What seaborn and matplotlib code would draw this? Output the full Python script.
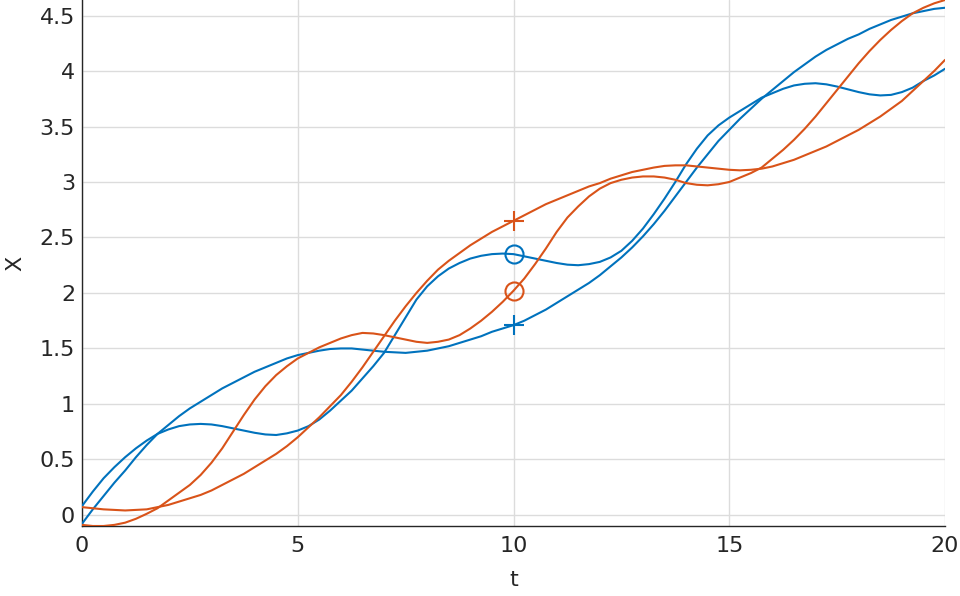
import matplotlib
matplotlib.use("Agg")
import matplotlib.pyplot as plt
import pandas as pd
import seaborn as sns

# sample times (every 0.25)
t = [i / 4 for i in range(81)]

# blue curve that carries the "+" marker at t=10
blue_plus = [-0.08, 0.05, 0.17, 0.29, 0.40, 0.52, 0.63, 0.73, 0.81, 0.89,
             0.96, 1.02, 1.08, 1.14, 1.19, 1.24, 1.29, 1.33, 1.37, 1.41,
             1.44, 1.46, 1.48, 1.495, 1.50, 1.50, 1.49, 1.48, 1.47, 1.465,
             1.46, 1.47, 1.48, 1.50, 1.52, 1.55, 1.58, 1.61, 1.65, 1.68,
             1.71, 1.75, 1.80, 1.85, 1.91, 1.97, 2.03, 2.09, 2.16, 2.24,
             2.32, 2.41, 2.51, 2.62, 2.74, 2.87, 3.00, 3.13, 3.25, 3.37,
             3.47, 3.57, 3.66, 3.75, 3.83, 3.91, 3.99, 4.06, 4.13, 4.19,
             4.24, 4.29, 4.33, 4.38, 4.42, 4.46, 4.49, 4.52, 4.54, 4.56,
             4.57]

# blue curve that carries the "o" marker at t=10
blue_circ = [0.08, 0.21, 0.33, 0.43, 0.52, 0.60, 0.67, 0.73, 0.77, 0.80,
             0.815, 0.82, 0.815, 0.80, 0.78, 0.76, 0.74, 0.725, 0.72, 0.735,
             0.76, 0.80, 0.86, 0.94, 1.03, 1.12, 1.23, 1.34, 1.46, 1.62,
             1.78, 1.94, 2.06, 2.15, 2.22, 2.27, 2.31, 2.335, 2.35, 2.355,
             2.35, 2.33, 2.31, 2.29, 2.27, 2.255, 2.25, 2.26, 2.28, 2.32,
             2.38, 2.47, 2.58, 2.71, 2.85, 3.00, 3.16, 3.30, 3.42, 3.51,
             3.58, 3.64, 3.70, 3.76, 3.80, 3.84, 3.87, 3.885, 3.89, 3.88,
             3.86, 3.835, 3.81, 3.79, 3.78, 3.785, 3.81, 3.85, 3.91, 3.96,
             4.02]

# orange curve with "+" at t=10
orange_plus = [0.07, 0.06, 0.05, 0.045, 0.04, 0.045, 0.05, 0.07, 0.09, 0.12,
               0.15, 0.18, 0.22, 0.27, 0.32, 0.37, 0.43, 0.49, 0.55, 0.62,
               0.70, 0.79, 0.88, 0.98, 1.08, 1.20, 1.33, 1.47, 1.61, 1.75,
               1.88, 2.00, 2.11, 2.21, 2.29, 2.36, 2.43, 2.49, 2.55, 2.60,
               2.65, 2.70, 2.75, 2.80, 2.84, 2.88, 2.92, 2.96, 2.99, 3.03,
               3.06, 3.09, 3.11, 3.13, 3.145, 3.15, 3.15, 3.14, 3.13, 3.12,
               3.11, 3.105, 3.11, 3.12, 3.14, 3.17, 3.20, 3.24, 3.28, 3.32,
               3.37, 3.42, 3.47, 3.53, 3.59, 3.66, 3.73, 3.82, 3.91, 4.00,
               4.10]

# orange curve with "o" at t=10
orange_circ = [-0.09, -0.10, -0.10, -0.09, -0.07, -0.035, 0.01, 0.06, 0.13, 0.20,
               0.27, 0.36, 0.47, 0.60, 0.75, 0.90, 1.04, 1.16, 1.26, 1.34,
               1.41, 1.46, 1.51, 1.55, 1.59, 1.62, 1.64, 1.635, 1.62, 1.60,
               1.58, 1.56, 1.55, 1.56, 1.58, 1.62, 1.68, 1.75, 1.83, 1.92,
               2.02, 2.13, 2.26, 2.40, 2.55, 2.68, 2.78, 2.87, 2.94, 2.99,
               3.02, 3.04, 3.05, 3.05, 3.04, 3.02, 2.99, 2.975, 2.97, 2.98,
               3.00, 3.04, 3.08, 3.13, 3.21, 3.29, 3.38, 3.48, 3.59, 3.71,
               3.83, 3.95, 4.07, 4.18, 4.28, 4.37, 4.45, 4.52, 4.57, 4.61,
               4.64]

t_mark = 10.0
x_ticks = [0, 5, 10, 15, 20]
y_ticks = [0, 0.5, 1, 1.5, 2, 2.5, 3, 3.5, 4, 4.5]
y_tick_labels = ["0", "0.5", "1", "1.5", "2", "2.5", "3", "3.5", "4", "4.5"]

BLUE = "#0072BD"
ORANGE = "#D95319"

sns.set_style("white")
plt.rcParams["font.family"] = ["DejaVu Sans"]

fig = plt.figure(figsize=(9.6, 5.96), dpi=100)
ax = fig.add_axes([82 / 960, 70 / 596, (945 - 82) / 960, 526 / 596])

df = pd.DataFrame({"t": t, "bp": blue_plus, "bc": blue_circ,
                   "op": orange_plus, "oc": orange_circ})
for col, c in [("bp", BLUE), ("bc", BLUE), ("op", ORANGE), ("oc", ORANGE)]:
    sns.lineplot(data=df, x="t", y=col, color=c, linewidth=1.5, ax=ax, zorder=3)

# markers at t = 10, taken from the series themselves
i = t.index(t_mark)
ax.plot(t_mark, blue_circ[i], "o", ms=13, mfc="none", mec=BLUE, mew=1.5, zorder=4)
ax.plot(t_mark, blue_plus[i], "+", ms=15, mec=BLUE, mew=1.5, zorder=4)
ax.plot(t_mark, orange_plus[i], "+", ms=15, mec=ORANGE, mew=1.5, zorder=4)
ax.plot(t_mark, orange_circ[i], "o", ms=13, mfc="none", mec=ORANGE, mew=1.5, zorder=4)

ax.set_xlim(0, 20)
ax.set_ylim(-0.1, 4.64)
ax.set_xticks(x_ticks)
ax.set_xticklabels([str(v) for v in x_ticks])
ax.set_yticks(y_ticks)
ax.set_yticklabels(y_tick_labels)

ax.grid(True, color="#dcdcdc", linewidth=1.0)
ax.set_axisbelow(True)
for s in ["top", "right"]:
    ax.spines[s].set_visible(False)
for s in ["left", "bottom"]:
    ax.spines[s].set_color("#262626")
    ax.spines[s].set_linewidth(1.0)

ax.tick_params(axis="both", direction="in", length=6.5, width=1.0,
               color="#262626", labelcolor="#262626", labelsize=16)
ax.tick_params(axis="x", pad=7)
ax.tick_params(axis="y", pad=5)
ax.set_xlabel("t", fontsize=16, color="#262626", labelpad=10)
ax.set_ylabel("X", fontsize=16, color="#262626", labelpad=10)

fig.savefig("out.png", dpi=100)
